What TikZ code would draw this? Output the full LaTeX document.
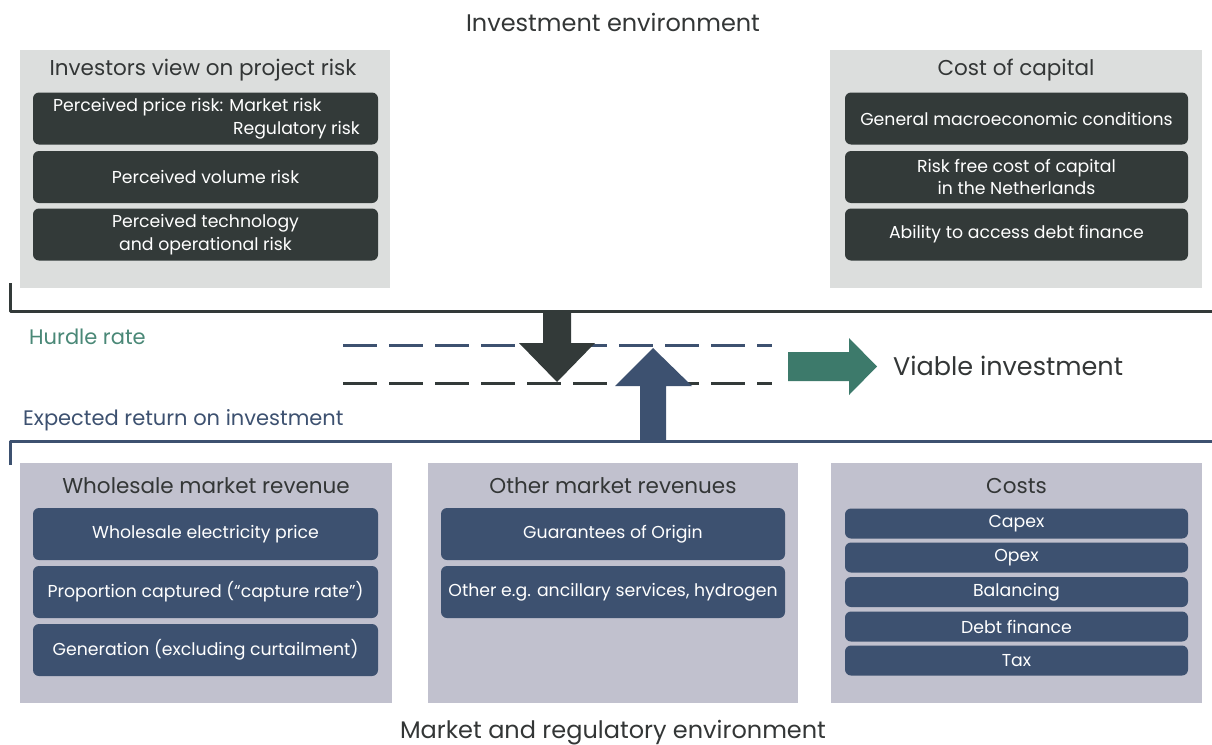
\documentclass[tikz,border=0pt]{standalone}
\usepackage{fontspec}
\setmainfont{Poppins}
\usetikzlibrary{positioning}
\definecolor{darkbox}{HTML}{333A39}
\definecolor{bluebox}{HTML}{3D5170}
\definecolor{greypanel}{HTML}{DCDEDD}
\definecolor{lilacpanel}{HTML}{C1C1CE}
\definecolor{greenarrow}{HTML}{3D7A6B}
\definecolor{greentext}{HTML}{4A8877}
\definecolor{bodytext}{HTML}{333636}
\tikzset{
  panel/.style={fill=#1, inner sep=0pt, minimum height=238pt},
  paneltitle/.style={text=bodytext, font=\fontsize{21.5}{24}\selectfont},
  itemfont/.style={font=\fontsize{17.3}{22.5}\selectfont},
  item/.style={fill=#1, rounded corners=6pt, text=white, inner sep=0pt,
    minimum width=345pt, minimum height=52pt, align=center, itemfont},
  costitem/.style={item=bluebox, minimum width=343pt, minimum height=30pt},
  heading/.style={text=bodytext, font=\fontsize{24}{28}\selectfont, inner sep=0pt},
  bracket/.style={line width=3pt, line join=round},
  level/.style={line width=3pt, dash pattern=on 34pt off 12pt}
}

\begin{document}
\begin{tikzpicture}[x=1pt, y=-1pt]
    \useasboundingbox (0,0) rectangle (1212,744);

    % investment environment
    \node[heading] (top) at (613,22) {Investment environment};
    \node[panel=greypanel, minimum width=370pt] (risk) at (205,169) {};
    \node[panel=greypanel, minimum width=372pt] (capital) at (1016,169) {};
    \node[paneltitle] (riskt) at (203,70) {Investors view on project risk};
    \node[paneltitle] (capitalt) at (1016,70) {Cost of capital};

    \node[item=darkbox] (price) at (205.5,118.5) {};
    \node[item=darkbox] (volume) at (205.5,177) {Perceived volume risk};
    \node[item=darkbox] (tech) at (205.5,234.5) {Perceived technology\\and operational risk};
    \node[text=white, itemfont, anchor=west, inner sep=0pt] (pricea) at (53,107) {Perceived price risk: Market risk};
    \node[text=white, itemfont, anchor=east, inner sep=0pt] (priceb) at (360,130) {Regulatory risk};

    \node[item=darkbox, minimum width=343pt] (macro) at (1016.5,118.5) {General macroeconomic conditions};
    \node[item=darkbox, minimum width=343pt] (riskfree) at (1016.5,177) {Risk free cost of capital\\in the Netherlands};
    \node[item=darkbox, minimum width=343pt] (debt) at (1016.5,234.5) {Ability to access debt finance};

    % brackets and levels
    \draw[bracket, darkbox] (10,283) -- (10,311) -- (1212,311);
    \draw[bracket, bluebox] (10,465) -- (10,441) -- (1212,441);
    \node[text=greentext, font=\fontsize{21}{24}\selectfont, anchor=west, inner sep=0pt] (hurdle) at (29,337) {Hurdle rate};
    \node[text=bluebox, font=\fontsize{21}{24}\selectfont, anchor=west, inner sep=0pt] (expected) at (23,420) {Expected return on investment};
    \draw[level, bluebox] (343,345) -- (772,345);
    \draw[level, darkbox] (343,383) -- (772,383);

    \fill[darkbox] (543,311) -- (571,311) -- (571,343) -- (595,343) -- (557,382)
        -- (519,343) -- (543,343) -- cycle;
    \fill[bluebox] (640,441) -- (666,441) -- (666,386) -- (692,386) -- (653,348)
        -- (615,386) -- (640,386) -- cycle;
    \fill[greenarrow] (788,352) -- (849,352) -- (849,338) -- (877,366.5) -- (849,395)
        -- (849,381) -- (788,381) -- cycle;
    \node[text=bodytext, font=\fontsize{25.5}{28}\selectfont, anchor=west, inner sep=0pt] (viable) at (893,366) {Viable investment};

    % market and regulatory environment
    \node[panel=lilacpanel, minimum width=372pt, minimum height=240pt] (wholesale) at (206,583) {};
    \node[panel=lilacpanel, minimum width=370pt, minimum height=240pt] (other) at (613,583) {};
    \node[panel=lilacpanel, minimum width=371pt, minimum height=240pt] (costs) at (1016.5,583) {};
    \node[paneltitle] (wholesalet) at (206,486) {Wholesale market revenue};
    \node[paneltitle] (othert) at (613,486) {Other market revenues};
    \node[paneltitle] (costst) at (1016.5,486) {Costs};

    \node[item=bluebox] (elprice) at (205.5,534) {Wholesale electricity price};
    \node[item=bluebox] (capture) at (205.5,592) {Proportion captured (“capture rate”)};
    \node[item=bluebox] (generation) at (205.5,650) {Generation (excluding curtailment)};

    \node[item=bluebox, minimum width=344pt] (origin) at (613,534) {Guarantees of Origin};
    \node[item=bluebox, minimum width=344pt] (ancillary) at (613,592) {Other e.g. ancillary services, hydrogen};

    \node[costitem] (capex) at (1016.5,523.5) {Capex};
    \node[costitem] (opex) at (1016.5,557.5) {Opex};
    \node[costitem] (balancing) at (1016.5,592) {Balancing};
    \node[costitem] (debtfin) at (1016.5,626.5) {Debt finance};
    \node[costitem] (tax) at (1016.5,660.5) {Tax};

    \node[heading, anchor=base] (bottom) at (613,738) {Market and regulatory environment};
\end{tikzpicture}
\end{document}
